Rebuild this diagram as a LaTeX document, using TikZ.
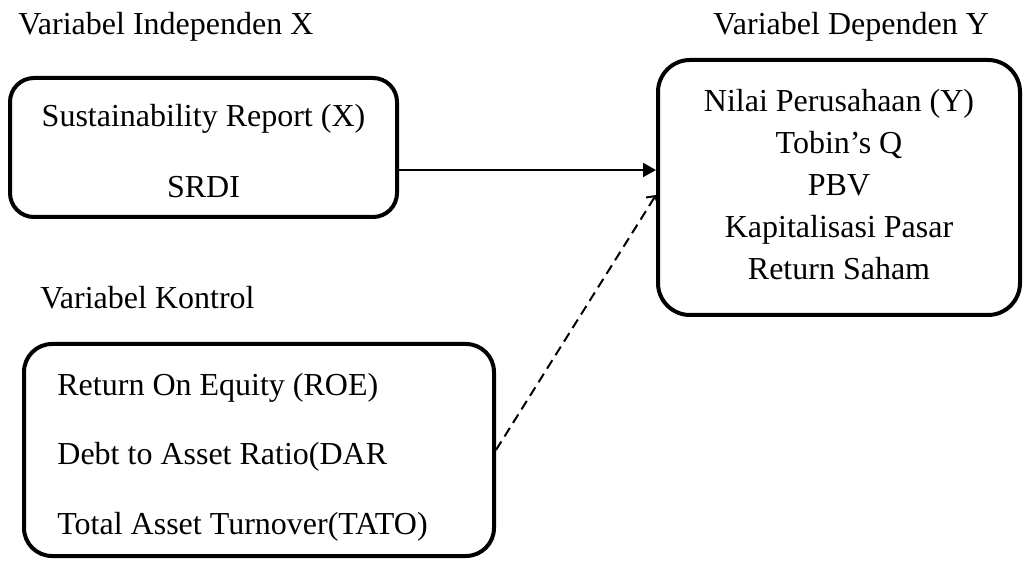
\documentclass[tikz,border=0pt]{standalone}
\usepackage{fontspec}
\setmainfont{Liberation Serif}
\usetikzlibrary{arrows.meta}
\begin{document}
\begin{tikzpicture}[x=0.5pt,y=-0.5pt,
  box/.style={draw, line width=2pt, inner sep=0pt},
  lbl/.style={font=\fontsize{16}{19}\selectfont, inner sep=0pt},
  conn/.style={line width=1pt},
]
\useasboundingbox (0,0) rectangle (1024,561);
% titles
\node[lbl, anchor=base west] (tx) at (18,35) {Variabel Independen X};
\node[lbl, anchor=base west] (ty) at (713,35) {Variabel Dependen Y};
\node[lbl, anchor=base west] (tk) at (40,309) {Variabel Kontrol};
% boxes
\node[box, rounded corners=12pt, minimum width=193.5pt, minimum height=69.5pt] (bx) at (203.5,147.5) {};
\node[box, rounded corners=16pt, minimum width=181pt, minimum height=127.5pt] (by) at (839,187.5) {};
\node[box, rounded corners=14pt, minimum width=235pt, minimum height=106pt] (bk) at (259,450) {};
% box X text
\node[lbl, anchor=base] (x1) at (203.5,127) {Sustainability Report (X)};
\node[lbl, anchor=base] (x2) at (203.5,198) {SRDI};
% box Y text
\node[lbl, anchor=base] (y1) at (839,112) {Nilai Perusahaan (Y)};
\node[lbl, anchor=base] (y2) at (839,154) {Tobin’s Q};
\node[lbl, anchor=base] (y3) at (839,196) {PBV};
\node[lbl, anchor=base] (y4) at (839,238) {Kapitalisasi Pasar};
\node[lbl, anchor=base] (y5) at (839,280) {Return Saham};
% box K text
\node[lbl, anchor=base west] (k1) at (57,396) {Return On Equity (ROE)};
\node[lbl, anchor=base west] (k2) at (57,465) {Debt to Asset Ratio(DAR};
\node[lbl, anchor=base west] (k3) at (57,535) {Total Asset Turnover(TATO)};
% connectors
\draw[conn, -{Triangle[length=6.5pt,width=7pt]}] (bx.east |- 0,170) -- (by.west |- 0,170);
\draw[conn, dash pattern=on 5pt off 3pt, -{Straight Barb[length=3pt,width=7pt]}] (bk.east) -- (by.west |- 0,195);
\end{tikzpicture}
\end{document}
